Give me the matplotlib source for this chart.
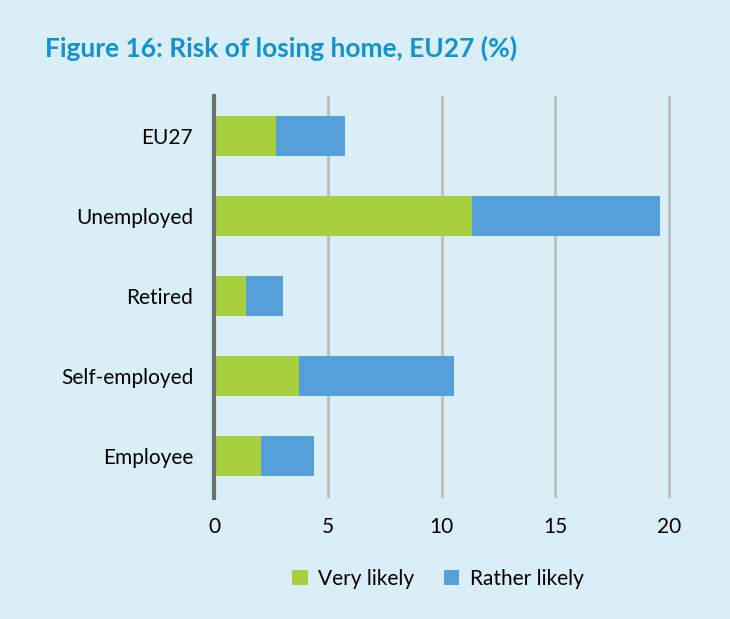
import matplotlib.pyplot as plt

# datos (porcentajes)
categorias = ["Employee", "Self-employed", "Retired", "Unemployed", "EU27"]
muy_probable = [2.07, 3.74, 1.41, 11.34, 2.73]
bastante_probable = [2.33, 6.81, 1.62, 8.26, 3.03]
ticks_x = [0, 5, 10, 15, 20]

fondo = "#daeef7"
verde = "#a8cf3c"
azul = "#55a0d8"

plt.rcParams["font.family"] = ["Lato", "DejaVu Sans"]

fig = plt.figure(figsize=(7.3, 6.19), dpi=100, facecolor=fondo)
ax = fig.add_axes([214 / 730, 1 - 498 / 619, (21 * 22.75) / 730, (498 - 96) / 619])
ax.set_facecolor(fondo)

pos = range(len(categorias))
ax.barh(pos, muy_probable, height=0.5, color=verde, label="Very likely", zorder=3)
ax.barh(pos, bastante_probable, left=muy_probable, height=0.5, color=azul,
        label="Rather likely", zorder=3)

ax.set_xlim(0, 21)
ax.set_ylim(-0.525, 4.5)
ax.set_xticks(ticks_x)
ax.set_xticklabels([str(t) for t in ticks_x], fontsize=15)
ax.set_yticks(list(pos))
ax.set_yticklabels(categorias, fontsize=15)
ax.tick_params(length=0, pad=15, axis="y")
ax.tick_params(length=0, pad=14, axis="x")

ax.grid(axis="x", color="#bcbcbc", linewidth=2, zorder=0)
for lado in ["top", "right", "bottom"]:
    ax.spines[lado].set_visible(False)
ax.spines["left"].set_color("#6d6e70")
ax.spines["left"].set_linewidth(3)
ax.spines["left"].set_zorder(4)

fig.text(45 / 730, 1 - 48 / 619, "Figure 16: Risk of losing home, EU27 (%)",
         fontsize=19, fontweight="bold", color="#1192d2", va="center", ha="left")

fig.legend(loc="center", bbox_to_anchor=(438 / 730, 1 - 579 / 619), ncol=2,
           frameon=False, fontsize=15, handlelength=0.75, handleheight=0.75,
           columnspacing=1.4, handletextpad=0.5)

fig.savefig("out.png", dpi=100, facecolor=fondo)
